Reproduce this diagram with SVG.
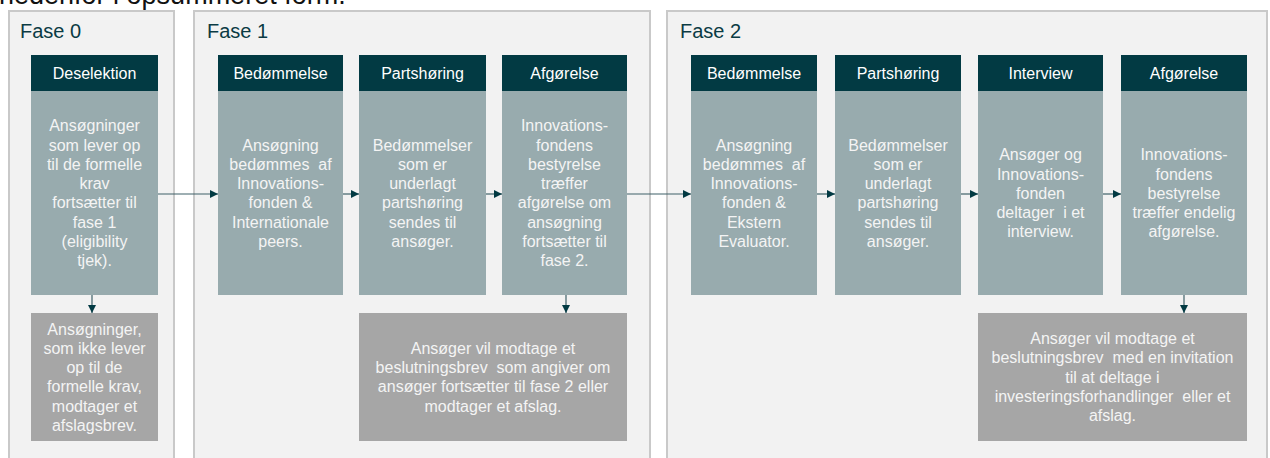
<svg xmlns="http://www.w3.org/2000/svg" width="1270" height="458" viewBox="0 0 1270 458">
<defs>
<style>
.panel{fill:#f2f2f2;stroke:#c9c9c9;stroke-width:2}
.phase{font-family:"Liberation Sans",Arial,sans-serif;font-size:20px;fill:#0b3b44}
.hdr{fill:#023a43}
.body{fill:#98abae}
.gray{fill:#a6a6a6}
.ht{font-family:"Liberation Sans",Arial,sans-serif;font-size:16px;fill:#ffffff;text-anchor:middle}
.bt{font-family:"Liberation Sans",Arial,sans-serif;font-size:16px;fill:#f4f4f4;text-anchor:middle;white-space:pre}
.con{stroke:#3f6168;stroke-width:1.2;fill:none;marker-end:url(#ah)}
.top{font-family:"Liberation Sans",Arial,sans-serif;font-size:27px;fill:#111}
</style>
<marker id="ah" markerUnits="userSpaceOnUse" markerWidth="9" markerHeight="9" refX="8" refY="4" orient="auto">
<path d="M0,0 L8,4 L0,8 z" fill="#023a43"/>
</marker>
</defs>
<rect width="1270" height="458" fill="#ffffff"/>
<text class="top" x="-1" y="4">nedenfor i opsummeret form.</text>

<g id="fase0">
<rect class="panel" x="9" y="11" width="165" height="460"/>
<text class="phase" x="20" y="38">Fase 0</text>
</g>
<g id="fase1">
<rect class="panel" x="194" y="11" width="456" height="460"/>
<text class="phase" x="207" y="38">Fase 1</text>
</g>
<g id="fase2">
<rect class="panel" x="667" y="11" width="600" height="460"/>
<text class="phase" x="680" y="38">Fase 2</text>
</g>

<g id="f0-deselektion">
<rect class="hdr" x="31" y="55" width="127" height="36"/>
<rect class="body" x="31" y="91" width="127" height="204"/>
<text class="ht" x="94.5" y="79">Deselektion</text>
<text class="bt" x="94.5" y="131.2"><tspan x="94.5">Ansøgninger</tspan><tspan x="94.5" dy="19.3">som lever op</tspan><tspan x="94.5" dy="19.3">til de formelle</tspan><tspan x="94.5" dy="19.3">krav</tspan><tspan x="94.5" dy="19.3">fortsætter til</tspan><tspan x="94.5" dy="19.3">fase 1</tspan><tspan x="94.5" dy="19.3">(eligibility</tspan><tspan x="94.5" dy="19.3">tjek).</tspan></text>
</g>
<g id="f0-afslag">
<rect class="gray" x="31" y="313" width="127" height="128"/>
<text class="bt" x="94.5" y="334.5"><tspan x="94.5">Ansøgninger,</tspan><tspan x="94.5" dy="19.3">som ikke lever</tspan><tspan x="94.5" dy="19.3">op til de</tspan><tspan x="94.5" dy="19.3">formelle krav,</tspan><tspan x="94.5" dy="19.3">modtager et</tspan><tspan x="94.5" dy="19.3">afslagsbrev.</tspan></text>
</g>

<g id="f1-bedommelse">
<rect class="hdr" x="218" y="55" width="125" height="36"/>
<rect class="body" x="218" y="91" width="125" height="204"/>
<text class="ht" x="280.5" y="79">Bedømmelse</text>
<text class="bt" x="280.5" y="150.5"><tspan x="280.5">Ansøgning</tspan><tspan x="280.5" dy="19.3">bedømmes  af</tspan><tspan x="280.5" dy="19.3">Innovations-</tspan><tspan x="280.5" dy="19.3">fonden &amp;</tspan><tspan x="280.5" dy="19.3">Internationale</tspan><tspan x="280.5" dy="19.3">peers.</tspan></text>
</g>
<g id="f1-partshoring">
<rect class="hdr" x="359" y="55" width="127" height="36"/>
<rect class="body" x="359" y="91" width="127" height="204"/>
<text class="ht" x="422.5" y="79">Partshøring</text>
<text class="bt" x="422.5" y="150.5"><tspan x="422.5">Bedømmelser</tspan><tspan x="422.5" dy="19.3">som er</tspan><tspan x="422.5" dy="19.3">underlagt</tspan><tspan x="422.5" dy="19.3">partshøring</tspan><tspan x="422.5" dy="19.3">sendes til</tspan><tspan x="422.5" dy="19.3">ansøger.</tspan></text>
</g>
<g id="f1-afgorelse">
<rect class="hdr" x="502" y="55" width="125" height="36"/>
<rect class="body" x="502" y="91" width="125" height="204"/>
<text class="ht" x="564.5" y="79">Afgørelse</text>
<text class="bt" x="564.5" y="131.2"><tspan x="564.5">Innovations-</tspan><tspan x="564.5" dy="19.3">fondens</tspan><tspan x="564.5" dy="19.3">bestyrelse</tspan><tspan x="564.5" dy="19.3">træffer</tspan><tspan x="564.5" dy="19.3">afgørelse om</tspan><tspan x="564.5" dy="19.3">ansøgning</tspan><tspan x="564.5" dy="19.3">fortsætter til</tspan><tspan x="564.5" dy="19.3">fase 2.</tspan></text>
</g>
<g id="f1-brev">
<rect class="gray" x="359" y="313" width="268" height="128"/>
<text class="bt" x="493" y="353.8"><tspan x="493">Ansøger vil modtage et</tspan><tspan x="493" dy="19.3">beslutningsbrev  som angiver om</tspan><tspan x="493" dy="19.3">ansøger fortsætter til fase 2 eller</tspan><tspan x="493" dy="19.3">modtager et afslag.</tspan></text>
</g>

<g id="f2-bedommelse">
<rect class="hdr" x="691" y="55" width="126" height="36"/>
<rect class="body" x="691" y="91" width="126" height="204"/>
<text class="ht" x="754" y="79">Bedømmelse</text>
<text class="bt" x="754" y="150.5"><tspan x="754">Ansøgning</tspan><tspan x="754" dy="19.3">bedømmes  af</tspan><tspan x="754" dy="19.3">Innovations-</tspan><tspan x="754" dy="19.3">fonden &amp;</tspan><tspan x="754" dy="19.3">Ekstern</tspan><tspan x="754" dy="19.3">Evaluator.</tspan></text>
</g>
<g id="f2-partshoring">
<rect class="hdr" x="835" y="55" width="126" height="36"/>
<rect class="body" x="835" y="91" width="126" height="204"/>
<text class="ht" x="898" y="79">Partshøring</text>
<text class="bt" x="898" y="150.5"><tspan x="898">Bedømmelser</tspan><tspan x="898" dy="19.3">som er</tspan><tspan x="898" dy="19.3">underlagt</tspan><tspan x="898" dy="19.3">partshøring</tspan><tspan x="898" dy="19.3">sendes til</tspan><tspan x="898" dy="19.3">ansøger.</tspan></text>
</g>
<g id="f2-interview">
<rect class="hdr" x="978" y="55" width="125" height="36"/>
<rect class="body" x="978" y="91" width="125" height="204"/>
<text class="ht" x="1040.5" y="79">Interview</text>
<text class="bt" x="1040.5" y="160.2"><tspan x="1040.5">Ansøger og</tspan><tspan x="1040.5" dy="19.3">Innovations-</tspan><tspan x="1040.5" dy="19.3">fonden</tspan><tspan x="1040.5" dy="19.3">deltager  i et</tspan><tspan x="1040.5" dy="19.3">interview.</tspan></text>
</g>
<g id="f2-afgorelse">
<rect class="hdr" x="1121" y="55" width="126" height="36"/>
<rect class="body" x="1121" y="91" width="126" height="204"/>
<text class="ht" x="1184" y="79">Afgørelse</text>
<text class="bt" x="1184" y="160.2"><tspan x="1184">Innovations-</tspan><tspan x="1184" dy="19.3">fondens</tspan><tspan x="1184" dy="19.3">bestyrelse</tspan><tspan x="1184" dy="19.3">træffer endelig</tspan><tspan x="1184" dy="19.3">afgørelse.</tspan></text>
</g>
<g id="f2-brev">
<rect class="gray" x="978" y="313" width="269" height="128"/>
<text class="bt" x="1112.5" y="344.1"><tspan x="1112.5">Ansøger vil modtage et</tspan><tspan x="1112.5" dy="19.3">beslutningsbrev  med en invitation</tspan><tspan x="1112.5" dy="19.3">til at deltage i</tspan><tspan x="1112.5" dy="19.3">investeringsforhandlinger  eller et</tspan><tspan x="1112.5" dy="19.3">afslag.</tspan></text>
</g>

<g id="connectors">
<line class="con" x1="158" y1="194" x2="218" y2="194"/>
<line class="con" x1="343" y1="194" x2="359" y2="194"/>
<line class="con" x1="486" y1="194" x2="502" y2="194"/>
<line class="con" x1="627" y1="194" x2="691" y2="194"/>
<line class="con" x1="817" y1="194" x2="835" y2="194"/>
<line class="con" x1="961" y1="194" x2="978" y2="194"/>
<line class="con" x1="1103" y1="194" x2="1121" y2="194"/>
<line class="con" x1="92" y1="295" x2="92" y2="313"/>
<line class="con" x1="566" y1="295" x2="566" y2="313"/>
<line class="con" x1="1184" y1="295" x2="1184" y2="313"/>
</g>
</svg>
